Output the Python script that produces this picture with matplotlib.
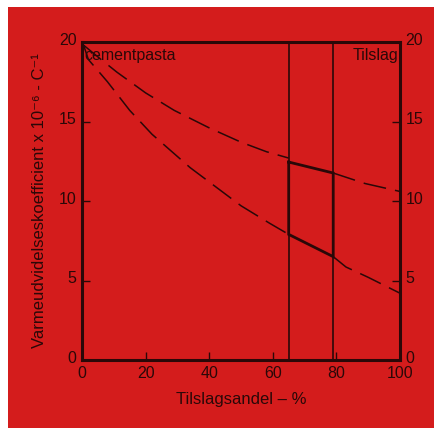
import matplotlib
matplotlib.use('Agg')
import matplotlib.pyplot as plt
from matplotlib.patches import Rectangle
from matplotlib.transforms import ScaledTranslation

plt.rcParams['font.family'] = ['Liberation Sans', 'DejaVu Sans']

RED = '#d41c1c'
INK = '#2a0808'

# upper dashed curve (outside the 65-79 band)
up_x1 = [0.5, 6, 11, 20, 29, 40, 50, 58, 65]
up_y1 = [19.8, 18.9, 18.1, 16.8, 15.7, 14.6, 13.7, 13.1, 12.7]
up_x2 = [79, 89, 100]
up_y2 = [11.76, 11.1, 10.6]

# lower dashed curve
lo_x1 = [0.5, 2, 8, 15, 22, 34, 40, 50, 59, 65]
lo_y1 = [19.8, 18.9, 17.5, 15.7, 14.2, 12.1, 11.2, 9.7, 8.6, 7.9]
lo_x2 = [79, 83, 90, 100]
lo_y2 = [6.5, 5.85, 5.2, 4.2]

# thick quadrilateral
quad_x = [65, 79, 79, 65, 65]
quad_y = [12.45, 11.76, 6.5, 7.9, 12.45]

band = [65, 79]
xticks = [0, 20, 40, 60, 80, 100]
yticks = [0, 5, 10, 15, 20]

fig = plt.figure(figsize=(4.34, 4.28), dpi=100, facecolor='white')
fig.patches.append(Rectangle((8 / 434, 0), 1, 1 - 7 / 428, transform=fig.transFigure,
                             facecolor=RED, edgecolor='none', zorder=-10))
ax = fig.add_axes([82 / 434, 68 / 428, 318 / 434, 318 / 428])
ax.set_facecolor(RED)

for xs, ys in [(up_x1, up_y1), (up_x2, up_y2), (lo_x1, lo_y1), (lo_x2, lo_y2)]:
    ax.plot(xs, ys, color=INK, lw=1.1, dashes=(15, 6))

for b in band:
    ax.axvline(b, color=INK, lw=1.2)
ax.plot(quad_x, quad_y, color=INK, lw=2.0, solid_joinstyle='miter')

ax.set_xlim(0, 100)
ax.set_ylim(0, 20)
ax.set_xticks(xticks)
ax.set_yticks(yticks)
for s in ax.spines.values():
    s.set_linewidth(2.2)
    s.set_color(INK)
ax.tick_params(direction='in', length=6, width=1.0, color=INK, labelcolor=INK,
               labelsize=11.5, right=True, labelright=True, pad=4)

# lift y tick labels a little, as in the original
lift = ScaledTranslation(0, 2.5 / 72, fig.dpi_scale_trans)
for t in ax.yaxis.get_major_ticks():
    for lab in (t.label1, t.label2):
        lab.set_transform(lab.get_transform() + lift)

ax.text(0.6, 19.6, 'cementpasta', ha='left', va='top', fontsize=11.5, color=INK)
ax.text(99.5, 19.6, 'Tilslag', ha='right', va='top', fontsize=11.5, color=INK)

ax.set_xlabel('Tilslagsandel – %', fontsize=12, color=INK)
ax.set_ylabel('Varmeudvidelseskoefficient x 10⁻⁶ - C⁻¹', fontsize=12, color=INK)
ax.xaxis.set_label_coords(0.5, -0.1)
ax.yaxis.set_label_coords(-0.11, 0.5)

fig.savefig('out.png', dpi=100, facecolor=fig.get_facecolor())
